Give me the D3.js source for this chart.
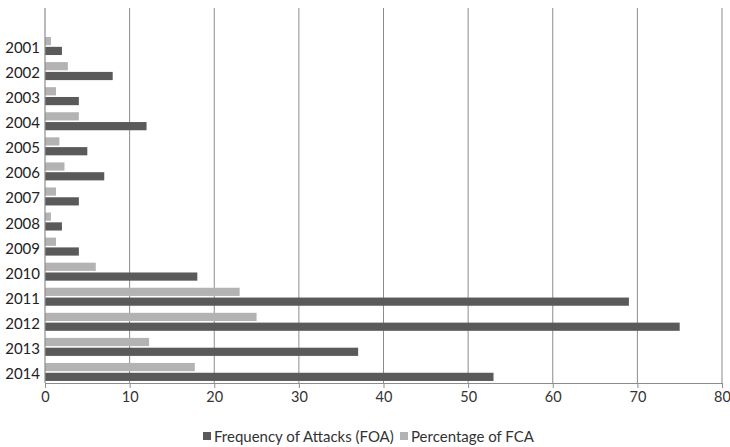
<!DOCTYPE html>
<html><head><meta charset="utf-8">
<script src="https://cdn.jsdelivr.net/npm/d3@7"></script>
<style>body{margin:0;background:#fff}svg{display:block}text{font-family:Lato,"Open Sans",sans-serif}</style>
</head><body>
<svg id="c" width="730" height="447"></svg>
<script>
const years = ["2001","2002","2003","2004","2005","2006","2007","2008","2009","2010","2011","2012","2013","2014"];
const foa = [2,8,4,12,5,7,4,2,4,18,69,75,37,53];
const pct = [0.7,2.7,1.3,4,1.7,2.3,1.3,0.7,1.3,6,23,25,12.3,17.7];
const ticks = [0,10,20,30,40,50,60,70,80];
const seriesNames = ["Frequency of Attacks (FOA)","Percentage of FCA"];
const colors = ["#5a5a5a","#b3b3b3"];

const svg = d3.select("#c");
const mLeft = 45, mRight = 722, mTop = 8, mBottom = 383;
const x = d3.scaleLinear().domain([0,80]).range([mLeft,mRight]);
const y = d3.scaleBand().domain(years).range([33.5,384.5]).paddingInner(0).paddingOuter(0);

// gridlines
svg.append("g").selectAll("line").data(ticks.slice(1)).join("line")
  .attr("x1",d=>x(d)).attr("x2",d=>x(d)).attr("y1",mTop).attr("y2",mBottom)
  .attr("stroke","#8c8c8c").attr("stroke-width",1);

const bh = 8.2;
const g = svg.append("g");
g.selectAll("rect.p").data(years).join("rect").attr("class","p")
  .attr("x",x(0)).attr("y",d=>y(d)+y.bandwidth()/2-bh-0.8)
  .attr("width",(d,i)=>x(pct[i])-x(0)).attr("height",bh).attr("fill",colors[1]);
g.selectAll("rect.f").data(years).join("rect").attr("class","f")
  .attr("x",x(0)).attr("y",d=>y(d)+y.bandwidth()/2+0.8)
  .attr("width",(d,i)=>x(foa[i])-x(0)).attr("height",bh).attr("fill",colors[0]);

// x axis
const xa = svg.append("g").attr("transform",`translate(0,${mBottom})`)
  .call(d3.axisBottom(x).tickValues(ticks).tickSize(5).tickPadding(4));
xa.select(".domain").attr("stroke","#8c8c8c");
xa.selectAll(".tick line").attr("stroke","#8c8c8c");
xa.selectAll("text").attr("font-size",14.5).attr("fill","#333").attr("font-family","Lato,sans-serif");

// y axis line
svg.append("line").attr("x1",mLeft).attr("x2",mLeft).attr("y1",mTop).attr("y2",mBottom)
  .attr("stroke","#8c8c8c").attr("stroke-width",1.2);

// y labels
svg.append("g").selectAll("text").data(years).join("text")
  .attr("x",40).attr("y",d=>y(d)+y.bandwidth()/2+1).attr("text-anchor","end")
  .attr("dominant-baseline","central").attr("font-size",15).attr("fill","#222").text(d=>d);

// legend
const lg = svg.append("g").attr("transform","translate(203,436)");
const lx = [0,197];
seriesNames.forEach((n,i)=>{
  lg.append("rect").attr("x",lx[i]).attr("y",-4).attr("width",8).attr("height",8).attr("fill",colors[i]);
  lg.append("text").attr("x",lx[i]+11).attr("y",0).attr("dominant-baseline","central")
    .attr("font-size",15).attr("fill","#333").text(n);
});
</script>
</body></html>
